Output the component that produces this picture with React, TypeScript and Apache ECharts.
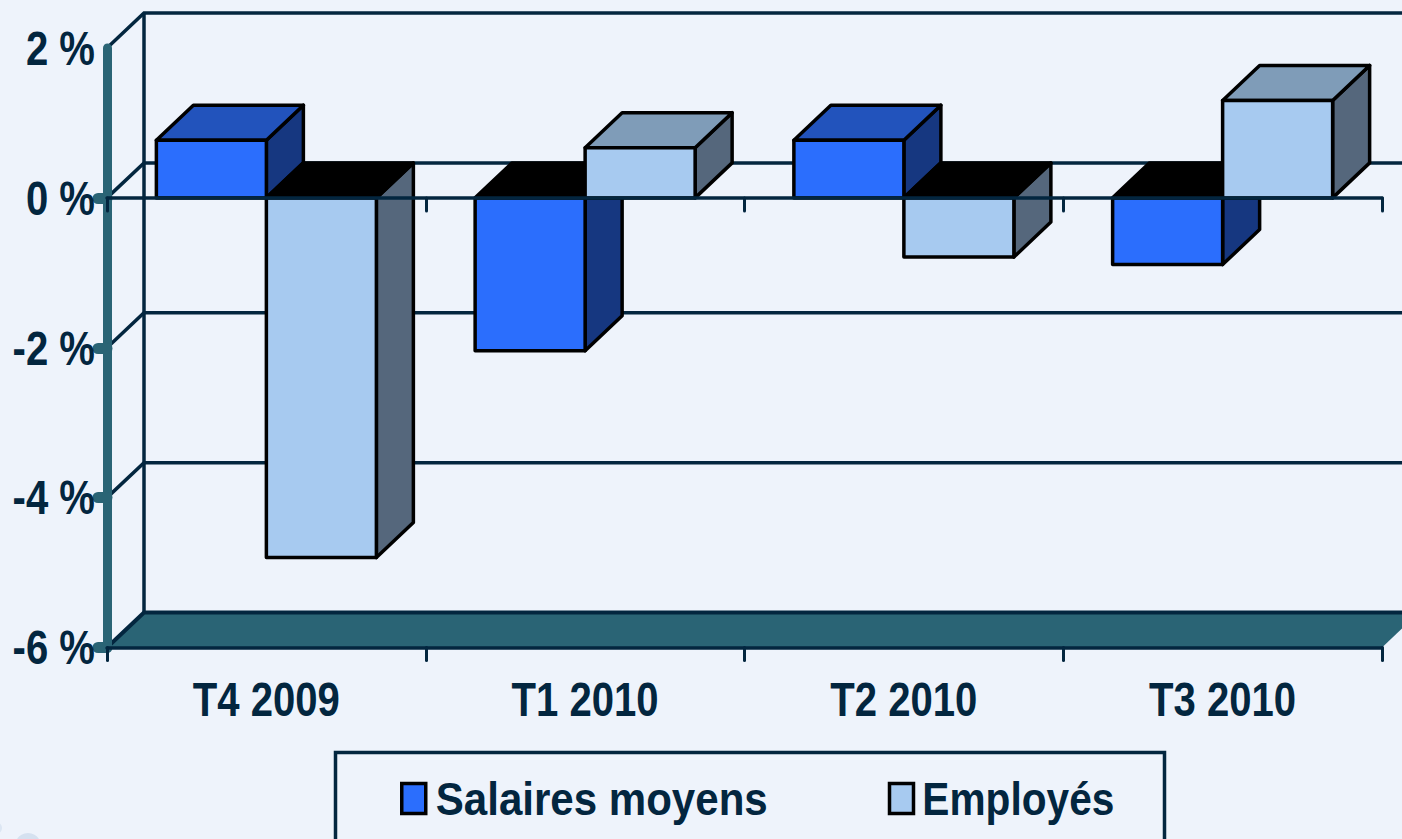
import React, { useEffect, useRef } from "react";
import * as echarts from "echarts";

const categories = ["T4 2009", "T1 2010", "T2 2010", "T3 2010"];
const salaires = [0.77, -2.04, 0.77, -0.89];
const employes = [-4.8, 0.67, -0.79, 1.3];
const yTicks = [2, 0, -2, -4, -6];
const yTicksWithMark = [0, -2, -4, -6];
const seriesNames = ["Salaires moyens", "Employés"];

const BG = "#EEF3FB";
const INK = "#03263F";
const TEAL = "#2A6475";
const FONT = '"Liberation Sans", sans-serif';
const DX = 37;
const DY = 35;
const BAR_W = 110;
const RIGHT_BEYOND = 1500;

// The reference uses a condensed face; none is installed, so texts are narrowed horizontally.
const condensing: Record<string, number> = { "Salaires moyens": 0.895, "Employés": 0.865 };
const DEFAULT_CONDENSING = 0.835;

type Palette = { front: string; top: string; side: string };
const bluePalette: Palette = { front: "#2B6EFD", top: "#2253BC", side: "#163780" };
const lightPalette: Palette = { front: "#A7CAF0", top: "#7F9CB8", side: "#55677C" };

function barRenderer(offsetBars: number, pal: Palette) {
  return (_params: any, api: any) => {
    const center = api.coord([api.value(0), 0])[0];
    const y0 = api.coord([api.value(0), 0])[1];
    const yv = api.coord([api.value(0), api.value(1)])[1];
    const x0 = center + offsetBars * BAR_W;
    const x1 = x0 + BAR_W;
    const up = yv < y0;
    const topY = up ? yv : y0;
    const botY = up ? y0 : yv;
    const stroke = { stroke: "#000", lineWidth: 3.5, lineJoin: "round" };
    return {
      type: "group",
      children: [
        {
          type: "polygon",
          shape: { points: [[x1, topY], [x1 + DX, topY - DY], [x1 + DX, botY - DY], [x1, botY]] },
          style: { fill: pal.side, ...stroke },
        },
        {
          type: "polygon",
          shape: { points: [[x0, topY], [x1, topY], [x1 + DX, topY - DY], [x0 + DX, topY - DY]] },
          style: { fill: up ? pal.top : "#000", ...stroke },
        },
        {
          type: "rect",
          shape: { x: x0, y: topY, width: BAR_W, height: botY - topY },
          style: { fill: pal.front, ...stroke },
        },
      ],
    };
  };
}

function wallRenderer(params: any, api: any) {
  const left = params.coordSys.x;
  const v = api.value(1);
  const y = api.coord([0, v])[1];
  const line = { stroke: INK, lineWidth: 3.5, fill: "none" };
  const children: any[] = [
    {
      type: "polyline",
      shape: { points: [[left, y], [left + DX, y - DY], [RIGHT_BEYOND, y - DY]] },
      style: line,
    },
  ];
  if (params.dataIndex === 0) {
    const yEnd = api.coord([0, yTicks[yTicks.length - 1]])[1];
    children.push({
      type: "line",
      shape: { x1: left + DX, y1: y - DY, x2: left + DX, y2: yEnd - DY },
      style: line,
    });
  }
  return { type: "group", children };
}

function floorRenderer(params: any, api: any) {
  const left = params.coordSys.x;
  const right = left + params.coordSys.width;
  const y = api.coord([0, api.value(1)])[1];
  return {
    type: "group",
    children: [
      {
        type: "polygon",
        shape: { points: [[left, y], [left + DX, y - DY], [right + DX, y - DY], [right, y]] },
        style: { fill: TEAL },
      },
      {
        type: "polyline",
        shape: { points: [[left, y], [left + DX, y - DY], [RIGHT_BEYOND, y - DY]] },
        style: { stroke: INK, lineWidth: 4, fill: "none" },
      },
    ],
  };
}

export default function App() {
  const ref = useRef<HTMLDivElement>(null);
  useEffect(() => {
    document.body.style.background = BG;
    const chart = echarts.init(ref.current!, undefined, { renderer: "svg" });
    const labelStyle = { color: INK, fontFamily: FONT, fontWeight: "bold" as const, fontSize: 48 };
    const tickStyle = { color: INK, width: 3, cap: "round" as const };
    const condense = () => {
      ref.current?.querySelectorAll("svg text").forEach((t) => {
        const transform = t.getAttribute("transform") || "";
        if (transform.includes("scale(")) return;
        const sx = condensing[(t.textContent || "").trim()] ?? DEFAULT_CONDENSING;
        t.setAttribute("transform", `${transform} scale(${sx},1)`);
      });
    };
    chart.on("finished", condense);
    chart.setOption({
      animation: false,
      backgroundColor: BG,
      grid: { left: 107, top: 48, width: 1275, height: 599.5, outerBoundsMode: "none" },
      graphic: [
        {
          type: "rect",
          silent: true,
          z: 0,
          shape: { x: 335.5, y: 752.5, width: 829, height: 120 },
          style: { fill: "none", stroke: INK, lineWidth: 3.5 },
        },
        { type: "circle", silent: true, z: 0, shape: { cx: 28, cy: 846, r: 13 }, style: { fill: "#D5E1F0" } },
        { type: "circle", silent: true, z: 0, shape: { cx: -4, cy: 828, r: 6 }, style: { fill: "#DCE6F3" } },
      ],
      legend: {
        left: 400,
        top: 775,
        orient: "horizontal",
        padding: 0,
        itemGap: 77,
        itemWidth: 24,
        itemHeight: 30,
        selectedMode: false,
        textStyle: { ...labelStyle, fontSize: 47, padding: [0, 0, 0, 9] },
        data: [
          { name: seriesNames[0], icon: "rect", itemStyle: { color: bluePalette.front, borderColor: "#000", borderWidth: 3.5 } },
          { name: seriesNames[1], icon: "rect", itemStyle: { color: lightPalette.front, borderColor: "#000", borderWidth: 3.5 } },
        ],
      },
      xAxis: [
        {
          type: "category",
          data: categories,
          position: "bottom",
          z: 6,
          axisLine: { onZero: false, lineStyle: { color: INK, width: 3.5 } },
          axisTick: { show: true, length: 13, lineStyle: tickStyle },
          axisLabel: { ...labelStyle, margin: 28 },
          splitLine: { show: false },
        },
        {
          type: "category",
          data: categories,
          position: "top",
          z: 6,
          axisLine: { onZero: true, lineStyle: { color: INK, width: 3.5 } },
          axisTick: { show: true, inside: true, length: 13, lineStyle: tickStyle },
          axisLabel: { show: false },
          splitLine: { show: false },
        },
      ],
      yAxis: {
        type: "value",
        min: -6,
        max: 2,
        interval: 2,
        z: 5,
        axisLine: { show: true, onZero: false, lineStyle: { color: TEAL, width: 9, cap: "round" } },
        axisTick: { show: true, customValues: yTicksWithMark, length: 9, lineStyle: { color: TEAL, width: 11, cap: "round" } },
        axisLabel: { ...labelStyle, margin: 12, formatter: "{value} %", customValues: yTicks },
        splitLine: { show: false },
      },
      series: [
        {
          type: "custom",
          name: "mur",
          z: 1,
          silent: true,
          encode: { x: 0, y: 1 },
          renderItem: wallRenderer,
          data: yTicks.slice(0, -1).map((t) => [0, t]),
        },
        {
          type: "custom",
          name: "sol",
          z: 1,
          silent: true,
          encode: { x: 0, y: 1 },
          renderItem: floorRenderer,
          data: [[0, yTicks[yTicks.length - 1]]],
        },
        {
          type: "custom",
          name: seriesNames[0],
          z: 2,
          silent: true,
          encode: { x: 0, y: 1 },
          renderItem: barRenderer(-1, bluePalette),
          data: salaires.map((v, i) => [i, v]),
        },
        {
          type: "custom",
          name: seriesNames[1],
          z: 3,
          silent: true,
          encode: { x: 0, y: 1 },
          renderItem: barRenderer(0, lightPalette),
          data: employes.map((v, i) => [i, v]),
        },
      ],
    });
    condense();
    return () => chart.dispose();
  }, []);
  return <div ref={ref} style={{ position: "absolute", left: 0, top: 0, width: 1402, height: 839 }} />;
}
